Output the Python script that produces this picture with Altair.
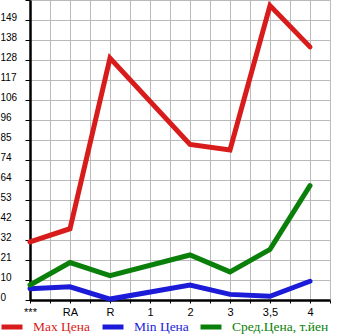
import altair as alt
import pandas as pd

categories = ["***", "RA", "R", "1", "2", "3", "3,5", "4"]
max_vals = [31, 38, 129, None, 83, 80, 157, 135]
min_vals = [6, 7, 0.5, None, 8, 3, 2, 10]
avg_vals = [8, 20, 13, None, 24, 15, 27, 61]
series_names = ["Max Цена", "Min Цена", "Сред.Цена, т.йен"]
series_colors = ["#d81c1c", "#1c1cd8", "#0a800a"]

rows = []
for name, vals in zip(series_names, [max_vals, min_vals, avg_vals]):
    for i, (c, v) in enumerate(zip(categories, vals)):
        if v is not None:
            rows.append({"idx": i, "cat": c, "value": v, "series": name})
df = pd.DataFrame(rows)

y_max = 160
y_ticks = [k * y_max / 15 for k in range(16)]
x_ticks = [k * 0.5 for k in range(16)]
cat_array = "[" + ",".join("'" + c + "'" for c in categories) + "]"
x_label_expr = f"datum.value % 1 == 0 ? {cat_array}[datum.value] : ''"

color_expr = (
    f"datum.label == '{series_names[0]}' ? '{series_colors[0]}' : "
    f"datum.label == '{series_names[1]}' ? '{series_colors[1]}' : '{series_colors[2]}'"
)

chart = (
    alt.Chart(df)
    .mark_line(strokeWidth=5, strokeCap="round", strokeJoin="miter", clip=False)
    .encode(
        x=alt.X(
            "idx:Q",
            scale=alt.Scale(domain=[0, 7.5], nice=False, zero=False),
            axis=alt.Axis(
                title=None,
                values=x_ticks,
                labelExpr=x_label_expr,
                grid=True,
                gridColor="#bbbbbb",
                gridWidth=1,
                domainColor="black",
                domainWidth=2.5,
                tickColor="black",
                tickSize=3,
                tickWidth=1,
                labelFont="Liberation Sans",
                labelFontSize=11,
                labelColor="black",
                labelPadding=3,
                labelFlush=False,
                labelOverlap=False,
            ),
        ),
        y=alt.Y(
            "value:Q",
            scale=alt.Scale(domain=[0, y_max], nice=False),
            axis=alt.Axis(
                title=None,
                values=y_ticks,
                labelExpr=f"datum.value >= {y_max} ? '' : floor(datum.value)",
                grid=True,
                gridColor="#bbbbbb",
                gridWidth=1,
                domainColor="black",
                domainWidth=2.5,
                tickColor="black",
                tickSize=5,
                tickWidth=1,
                labelFont="Liberation Sans",
                labelFontSize=10,
                labelColor="black",
                labelAlign="left",
                labelBaseline="alphabetic",
                labelPadding=25,
                labelFlush=False,
                labelOverlap=False,
            ),
        ),
        color=alt.Color(
            "series:N",
            scale=alt.Scale(domain=series_names, range=series_colors),
            sort=series_names,
            legend=alt.Legend(
                title=None,
                orient="none",
                legendX=-31,
                legendY=314,
                direction="horizontal",
                symbolType="stroke",
                symbolStrokeWidth=5,
                symbolSize=440,
                labelFont="Liberation Serif",
                labelFontSize=13.5,
                labelColor=alt.ExprRef(expr=color_expr),
                labelOffset=8,
                columnPadding=1,
            ),
        ),
        order=alt.Order("idx:Q"),
    )
    .properties(
        width=300,
        height=300,
        padding={"left": 30, "top": 0, "right": 15, "bottom": 35},
        autosize=alt.AutoSizeParams(type="none"),
    )
    .configure_view(fill="#f6f6f6", stroke=None)
    .configure(background="white")
)

chart.save("out.html", embed_options={"renderer": "svg", "actions": False})
